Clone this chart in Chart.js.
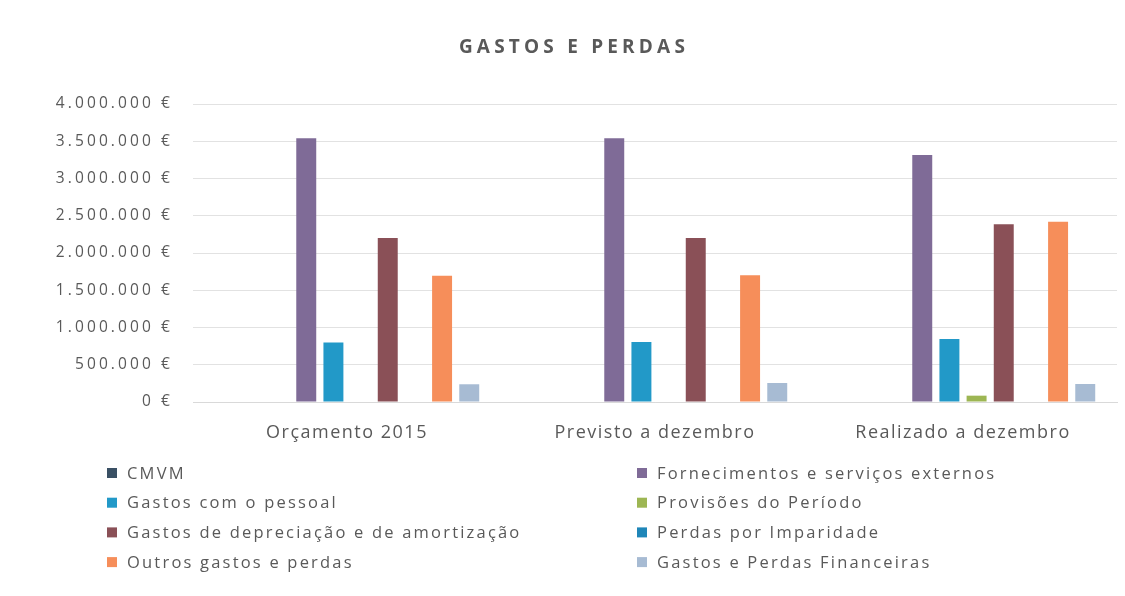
<!DOCTYPE html>
<html>
<head>
<meta charset="utf-8">
<script src="https://cdn.jsdelivr.net/npm/chart.js@4/dist/chart.umd.min.js"></script>
<style>
  html, body { margin: 0; padding: 0; background: #fff; }
  canvas { display: block; }
</style>
</head>
<body>
<canvas id="gastos" width="1125" height="596"></canvas>
<script>
const categories = ['Orçamento 2015', 'Previsto a dezembro', 'Realizado a dezembro'];

const cmvm = [0, 0, 0];
const fornecimentos = [3540000, 3540000, 3315000];
const pessoal = [800000, 805000, 845000];
const provisoes = [0, 0, 85000];
const depreciacao = [2200000, 2200000, 2385000];
const imparidade = [0, 0, 0];
const outros = [1695000, 1700000, 2420000];
const financeiras = [238000, 255000, 242000];

const yTicks = [0, 500000, 1000000, 1500000, 2000000, 2500000, 3000000, 3500000, 4000000];

const TEXT = '#595959';

const euro = v => String(v).replace(/\B(?=(\d{3})+(?!\d))/g, '.') + ' €';

// excel leaves two empty slots before CMVM in each group, keep them unnamed
const empty = [null, null, null];

const datasets = [
    { label: '', data: empty, backgroundColor: '#fff' },
    { label: '', data: empty, backgroundColor: '#fff' },
    { label: 'CMVM', data: cmvm, backgroundColor: '#3a5064' },
    { label: 'Fornecimentos e serviços externos', data: fornecimentos, backgroundColor: '#7f6b97' },
    { label: 'Gastos com o pessoal', data: pessoal, backgroundColor: '#2299c8' },
    { label: 'Provisões do Período', data: provisoes, backgroundColor: '#9db653' },
    { label: 'Gastos de depreciação e de amortização', data: depreciacao, backgroundColor: '#8a5057' },
    { label: 'Perdas por Imparidade', data: imparidade, backgroundColor: '#1f86b8' },
    { label: 'Outros gastos e perdas', data: outros, backgroundColor: '#f68e5a' },
    { label: 'Gastos e Perdas Financeiras', data: financeiras, backgroundColor: '#a7bbd3' }
];

// the reference text is set wide; give each axis its own letter spacing
const spacing = {
    id: 'spacing',
    afterLayout(chart) {
        const wrap = (scale, ls) => {
            if (scale._lsWrapped) return;
            const orig = scale.drawLabels;
            scale.drawLabels = function (area) {
                const prev = this.ctx.letterSpacing;
                this.ctx.letterSpacing = ls;
                orig.call(this, area);
                this.ctx.letterSpacing = prev;
            };
            scale._lsWrapped = true;
        };
        wrap(chart.scales.x, '1.5px');
        wrap(chart.scales.y, '3.1px');
    }
};

const titleAndLegend = {
    id: 'titleAndLegend',
    afterDraw(chart) {
        const ctx = chart.ctx;
        ctx.save();
        ctx.fillStyle = TEXT;
        ctx.textBaseline = 'middle';
        ctx.textAlign = 'center';
        ctx.font = 'bold 19px "Open Sans"';
        ctx.letterSpacing = '4.2px';
        ctx.fillText('GASTOS E PERDAS', 574, 48);

        ctx.textAlign = 'left';
        ctx.font = '16.5px "Open Sans"';
        ctx.letterSpacing = '2.2px';
        const items = chart.data.datasets.filter(d => d.label);
        items.forEach((d, i) => {
            const x = i % 2 ? 637 : 107;
            const y = 473 + Math.floor(i / 2) * 29.7;
            ctx.fillStyle = d.backgroundColor;
            ctx.fillRect(x, y - 5, 10, 10);
            ctx.fillStyle = TEXT;
            ctx.fillText(d.label, x + 20, y + 1);
        });
        ctx.restore();
    }
};

new Chart(document.getElementById('gastos'), {
    type: 'bar',
    data: { labels: categories, datasets: datasets },
    options: {
        responsive: false,
        animation: false,
        devicePixelRatio: 1,
        categoryPercentage: 0.882,
        barPercentage: 0.735,
        layout: { padding: { left: 0, right: 8, top: 104, bottom: 154 } },
        plugins: {
            legend: { display: false },
            title: { display: false },
            tooltip: { enabled: false }
        },
        scales: {
            x: {
                grid: { display: false },
                border: { color: '#d9d9d9' },
                ticks: { color: TEXT, font: { family: 'Open Sans', size: 18 }, padding: 12, maxRotation: 0 },
                afterFit(scale) { scale.height = 40; }
            },
            y: {
                min: 0,
                max: 4000000,
                border: { display: false },
                grid: { color: '#e2e2e2', lineWidth: 1, drawTicks: false },
                ticks: {
                    color: TEXT,
                    font: { family: 'Open Sans', size: 15.5 },
                    padding: 20,
                    callback: v => euro(v)
                },
                afterBuildTicks(scale) { scale.ticks = yTicks.map(v => ({ value: v })); },
                afterFit(scale) { scale.width = 193; }
            }
        }
    },
    plugins: [spacing, titleAndLegend]
});
</script>
</body>
</html>
